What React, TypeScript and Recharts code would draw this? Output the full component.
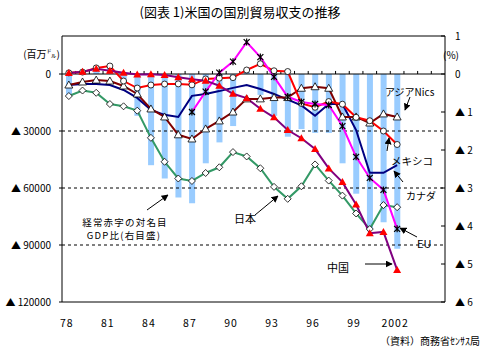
import { ComposedChart, Bar, Line, XAxis, YAxis, ReferenceLine } from 'recharts';

const FONT = '"Noto Sans CJK JP", "Noto Sans", sans-serif';

const YEARS = [
    1978, 1979, 1980, 1981, 1982, 1983, 1984, 1985, 1986, 1987, 1988, 1989, 1990,
    1991, 1992, 1993, 1994, 1995, 1996, 1997, 1998, 1999, 2000, 2001, 2002
];

// 百万ドル
const JAPAN = [
    -11600, -8700, -9900, -15800, -17000, -19300, -33600, -46200, -55000, -56300, -52100, -49100, -41100,
    -43400, -49600, -59400, -65700, -59100, -47600, -56100, -64000, -73400, -81600, -69000, -70100
];
const CHINA = [
    500, 1200, 2700, 1700, 600, -300, -100, -500, -1700, -2800, -3500, -6200, -10400,
    -12700, -18300, -22800, -29500, -33800, -39500, -49700, -56900, -68700, -83800, -83100, -103100
];
const EU = [
    null, null, null, null, null, null, null, null, null, -20000, -9300, 700, 6500,
    16800, 8900, -1500, -12000, -14700, -15800, -16300, -27400, -43600, -54700, -61000, -81500
];
const MEXICO = [
    600, 1000, 3200, 4200, -3700, -7400, -5800, -5300, -5200, -5700, -2600, -2200, -1900,
    2100, 5400, 1700, 1300, -15500, -17500, -14500, -15900, -22800, -24600, -30000, -37100
];
const CANADA = [
    -5800, -5300, -5300, -5800, -8400, -12600, -18900, -21500, -22600, -11500, -10500, -9000, -7300,
    -5800, -7900, -10500, -13500, -16500, -22000, -15800, -15800, -29500, -52000, -52000, -47900
];
const NICS = [
    -5800, -4200, -3200, -3700, -6300, -10500, -18400, -22600, -32000, -34200, -28900, -24700, -20000,
    -13100, -13100, -12400, -12400, -7500, -6700, -7500, -22600, -22600, -25800, -21000, -22600
];
// 経常赤字の対名目GDP比 (%)
const CA_GDP = [
    -0.6, 0.0, 0.1, 0.2, -0.2, -1.1, -2.4, -2.75, -3.25, -3.4, -2.35, -1.8, -1.37,
    0.05, -0.55, -1.1, -1.65, -1.45, -1.55, -1.55, -2.35, -3.15, -4.1, -3.9, -4.6
];

const X_TICKS = [1978, 1981, 1984, 1987, 1990, 1993, 1996, 1999, 2002];
const LEFT_TICKS = [-120000, -90000, -60000, -30000, 0];
const RIGHT_TICKS = [-6, -5, -4, -3, -2, -1, 0, 1];
const DASHED_LEVELS = [-30000, -60000, -90000];
const ZERO_TICKS = [
    1978.5, 1979.5, 1980.5, 1981.5, 1982.5, 1983.5, 1984.5, 1985.5, 1986.5, 1987.5, 1988.5, 1989.5, 1990.5,
    1991.5, 1992.5, 1993.5, 1994.5, 1995.5, 1996.5, 1997.5, 1998.5, 1999.5, 2000.5, 2001.5, 2002.5, 2003.5, 2004.5
];

const data = YEARS.map((year, i) => ({
    year,
    japan: JAPAN[i],
    china: CHINA[i],
    eu: EU[i],
    mexico: MEXICO[i],
    canada: CANADA[i],
    nics: NICS[i],
    gdp: CA_GDP[i]
}));

const LeftTick = (p: any) => {
    const v = p.payload.value;
    return (
        <g>
            <line x1={p.x + 8} x2={p.x + 11} y1={p.y} y2={p.y} stroke="#000" />
            <text x={p.x} y={p.y} dy={4} textAnchor="end" fontSize={10} fill="#000" fontFamily={FONT}>
                {v === 0 ? '0' : `▲ ${Math.abs(v)}`}
            </text>
        </g>
    );
};

const RightTick = (p: any) => {
    const v = p.payload.value;
    return (
        <g>
            <line x1={p.x - 14} x2={p.x - 10} y1={p.y} y2={p.y} stroke="#000" />
            <text x={p.x} y={p.y} dy={4} textAnchor="start" fontSize={10} fill="#000" fontFamily={FONT}>
                {v <= 0 ? (v === 0 ? '0' : `▲ ${Math.abs(v)}`) : String(v)}
            </text>
        </g>
    );
};

const XTick = (p: any) => {
    const v = p.payload.value;
    return (
        <text x={p.x - 2} y={p.y + 25} textAnchor="middle" fontSize={10.5} letterSpacing={1} fill="#000" fontFamily={FONT}>
            {v >= 2000 ? String(v) : String(v).slice(2)}
        </text>
    );
};

const diamondDot = (p: any) => {
    if (p.cx == null || p.cy == null) return <g key={`jd-${p.index}`} />;
    const { cx, cy } = p;
    return (
        <path key={`jd-${p.index}`} d={`M${cx},${cy - 3.5}L${cx + 3.5},${cy}L${cx},${cy + 3.5}L${cx - 3.5},${cy}Z`}
            fill="#fff" stroke="#000" strokeWidth={0.8} />
    );
};

const redTriangleDot = (p: any) => {
    if (p.cx == null || p.cy == null) return <g key={`ct-${p.index}`} />;
    const { cx, cy } = p;
    return (
        <path key={`ct-${p.index}`} d={`M${cx},${cy - 4}L${cx + 4},${cy + 3}L${cx - 4},${cy + 3}Z`} fill="#ff0000" />
    );
};

const whiteTriangleDot = (p: any) => {
    if (p.cx == null || p.cy == null) return <g key={`nt-${p.index}`} />;
    const { cx, cy } = p;
    return (
        <path key={`nt-${p.index}`} d={`M${cx},${cy - 4}L${cx + 4},${cy + 3}L${cx - 4},${cy + 3}Z`}
            fill="#fff" stroke="#000" strokeWidth={0.8} />
    );
};

const circleDot = (p: any) => {
    if (p.cx == null || p.cy == null) return <g key={`mc-${p.index}`} />;
    return <circle key={`mc-${p.index}`} cx={p.cx} cy={p.cy} r={3} fill="#fff" stroke="#000" strokeWidth={0.8} />;
};

const starDot = (p: any) => {
    if (p.cx == null || p.cy == null) return <g key={`es-${p.index}`} />;
    const { cx, cy } = p;
    return (
        <path key={`es-${p.index}`}
            d={`M${cx - 3},${cy - 3}L${cx + 3},${cy + 3}M${cx - 3},${cy + 3}L${cx + 3},${cy - 3}M${cx},${cy - 3.5}L${cx},${cy + 3.5}`}
            stroke="#000" strokeWidth={1.2} fill="none" />
    );
};

const LABELS = [
    { text: '(百万㌦)', x: 60, y: 53, anchor: 'end', size: 10, ls: 0 },
    { text: '(%)', x: 443, y: 54, anchor: 'start', size: 10, ls: 0 },
    { text: 'アジアNics', x: 385, y: 91, anchor: 'start', size: 10, ls: 0 },
    { text: 'メキシコ', x: 391, y: 160, anchor: 'start', size: 10.5, ls: 0 },
    { text: 'カナダ', x: 406, y: 195, anchor: 'start', size: 10, ls: 0 },
    { text: 'EU', x: 417, y: 243, anchor: 'start', size: 11, ls: 0 },
    { text: '中国', x: 327, y: 267, anchor: 'start', size: 11, ls: 0 },
    { text: '日本', x: 234, y: 218, anchor: 'start', size: 11, ls: 0 },
    { text: '経常赤字の対名目', x: 125, y: 222, anchor: 'middle', size: 9.5, ls: 1.2 },
    { text: 'GDP比(右目盛)', x: 124, y: 235, anchor: 'middle', size: 9.5, ls: 1.2 },
    { text: '（資料）商務省ｾﾝｻｽ局', x: 480, y: 340, anchor: 'end', size: 10, ls: 0 }
];

// 矢印: 始点 → 終点(矢じり)
const ARROWS = [
    [410, 97, 405, 110],
    [387, 151, 389, 138],
    [403, 182, 394, 171],
    [417, 237, 400, 228],
    [365, 264, 392, 264],
    [255, 215, 278, 196],
    [147, 210, 168, 195]
];

export default function App() {
    return (
        <div style={{ position: 'absolute', left: 0, top: 0, width: 486, height: 356, background: '#fff', fontFamily: FONT }}>
            <ComposedChart width={486} height={356} data={data} margin={{ top: 36, right: 0, bottom: 0, left: 0 }}>
                <XAxis
                    dataKey="year"
                    type="number"
                    domain={[1977.5, 2005.5]}
                    ticks={X_TICKS}
                    interval={0}
                    height={54}
                    tickSize={0}
                    tickMargin={0}
                    tickLine={false}
                    tick={XTick}
                    axisLine={{ stroke: '#000' }}
                    allowDataOverflow
                />
                <YAxis
                    yAxisId="left"
                    type="number"
                    domain={[-120000, 20000]}
                    ticks={LEFT_TICKS}
                    interval={0}
                    width={62}
                    tickSize={0}
                    tickMargin={11}
                    tickLine={false}
                    tick={LeftTick}
                    axisLine={{ stroke: '#000' }}
                    allowDataOverflow
                />
                <YAxis
                    yAxisId="right"
                    orientation="right"
                    type="number"
                    domain={[-6, 1]}
                    ticks={RIGHT_TICKS}
                    interval={0}
                    width={41}
                    tickSize={0}
                    tickMargin={10}
                    tickLine={false}
                    tick={RightTick}
                    axisLine={{ stroke: '#000' }}
                    allowDataOverflow
                />
                <ReferenceLine yAxisId="left" y={20000} stroke="#000" />
                {DASHED_LEVELS.map((v) => (
                    <ReferenceLine key={`dl-${v}`} yAxisId="left" y={v} stroke="#000" strokeDasharray="3 3" />
                ))}
                <Bar yAxisId="right" dataKey="gdp" fill="#99ccff" barSize={6} isAnimationActive={false} />
                <ReferenceLine yAxisId="left" y={0} stroke="#000" />
                {ZERO_TICKS.map((t) => (
                    <ReferenceLine key={`zt-${t}`} yAxisId="left" segment={[{ x: t, y: 0 }, { x: t, y: 1600 }]} stroke="#000" />
                ))}
                <Line yAxisId="left" dataKey="japan" stroke="#339966" strokeWidth={2} dot={diamondDot} isAnimationActive={false} />
                <Line yAxisId="left" dataKey="canada" stroke="#000080" strokeWidth={2} dot={false} isAnimationActive={false} />
                <Line yAxisId="left" dataKey="nics" stroke="#800000" strokeWidth={2} dot={whiteTriangleDot} isAnimationActive={false} />
                <Line yAxisId="left" dataKey="mexico" stroke="#ff0000" strokeWidth={2} dot={circleDot} isAnimationActive={false} />
                <Line yAxisId="left" dataKey="eu" stroke="#ff00ff" strokeWidth={2} dot={starDot} isAnimationActive={false} />
                <Line yAxisId="left" dataKey="china" stroke="#800080" strokeWidth={2} dot={redTriangleDot} isAnimationActive={false} />
            </ComposedChart>

            {/* タイトル・注記 */}
            <svg width={486} height={356} style={{ position: 'absolute', left: 0, top: 0, pointerEvents: 'none' }}>
                <defs>
                    <marker id="ah" viewBox="0 0 10 10" refX="9" refY="5" markerWidth="7" markerHeight="7" orient="auto">
                        <path d="M0,0L10,5L0,10Z" fill="#000" />
                    </marker>
                </defs>
                <text x={240} y={11} textAnchor="middle" dominantBaseline="central" fontSize={13} fill="#000" fontFamily={FONT}>
                    (図表 1)米国の国別貿易収支の推移
                </text>
                {LABELS.map((l) => (
                    <text key={l.text} x={l.x} y={l.y} textAnchor={l.anchor as any} dominantBaseline="central"
                        fontSize={l.size} letterSpacing={l.ls} fill="#000" fontFamily={FONT}>
                        {l.text}
                    </text>
                ))}
                {ARROWS.map((a, i) => (
                    <line key={`ar-${i}`} x1={a[0]} y1={a[1]} x2={a[2]} y2={a[3]} stroke="#000" strokeWidth={1} markerEnd="url(#ah)" />
                ))}
            </svg>
        </div>
    );
}
